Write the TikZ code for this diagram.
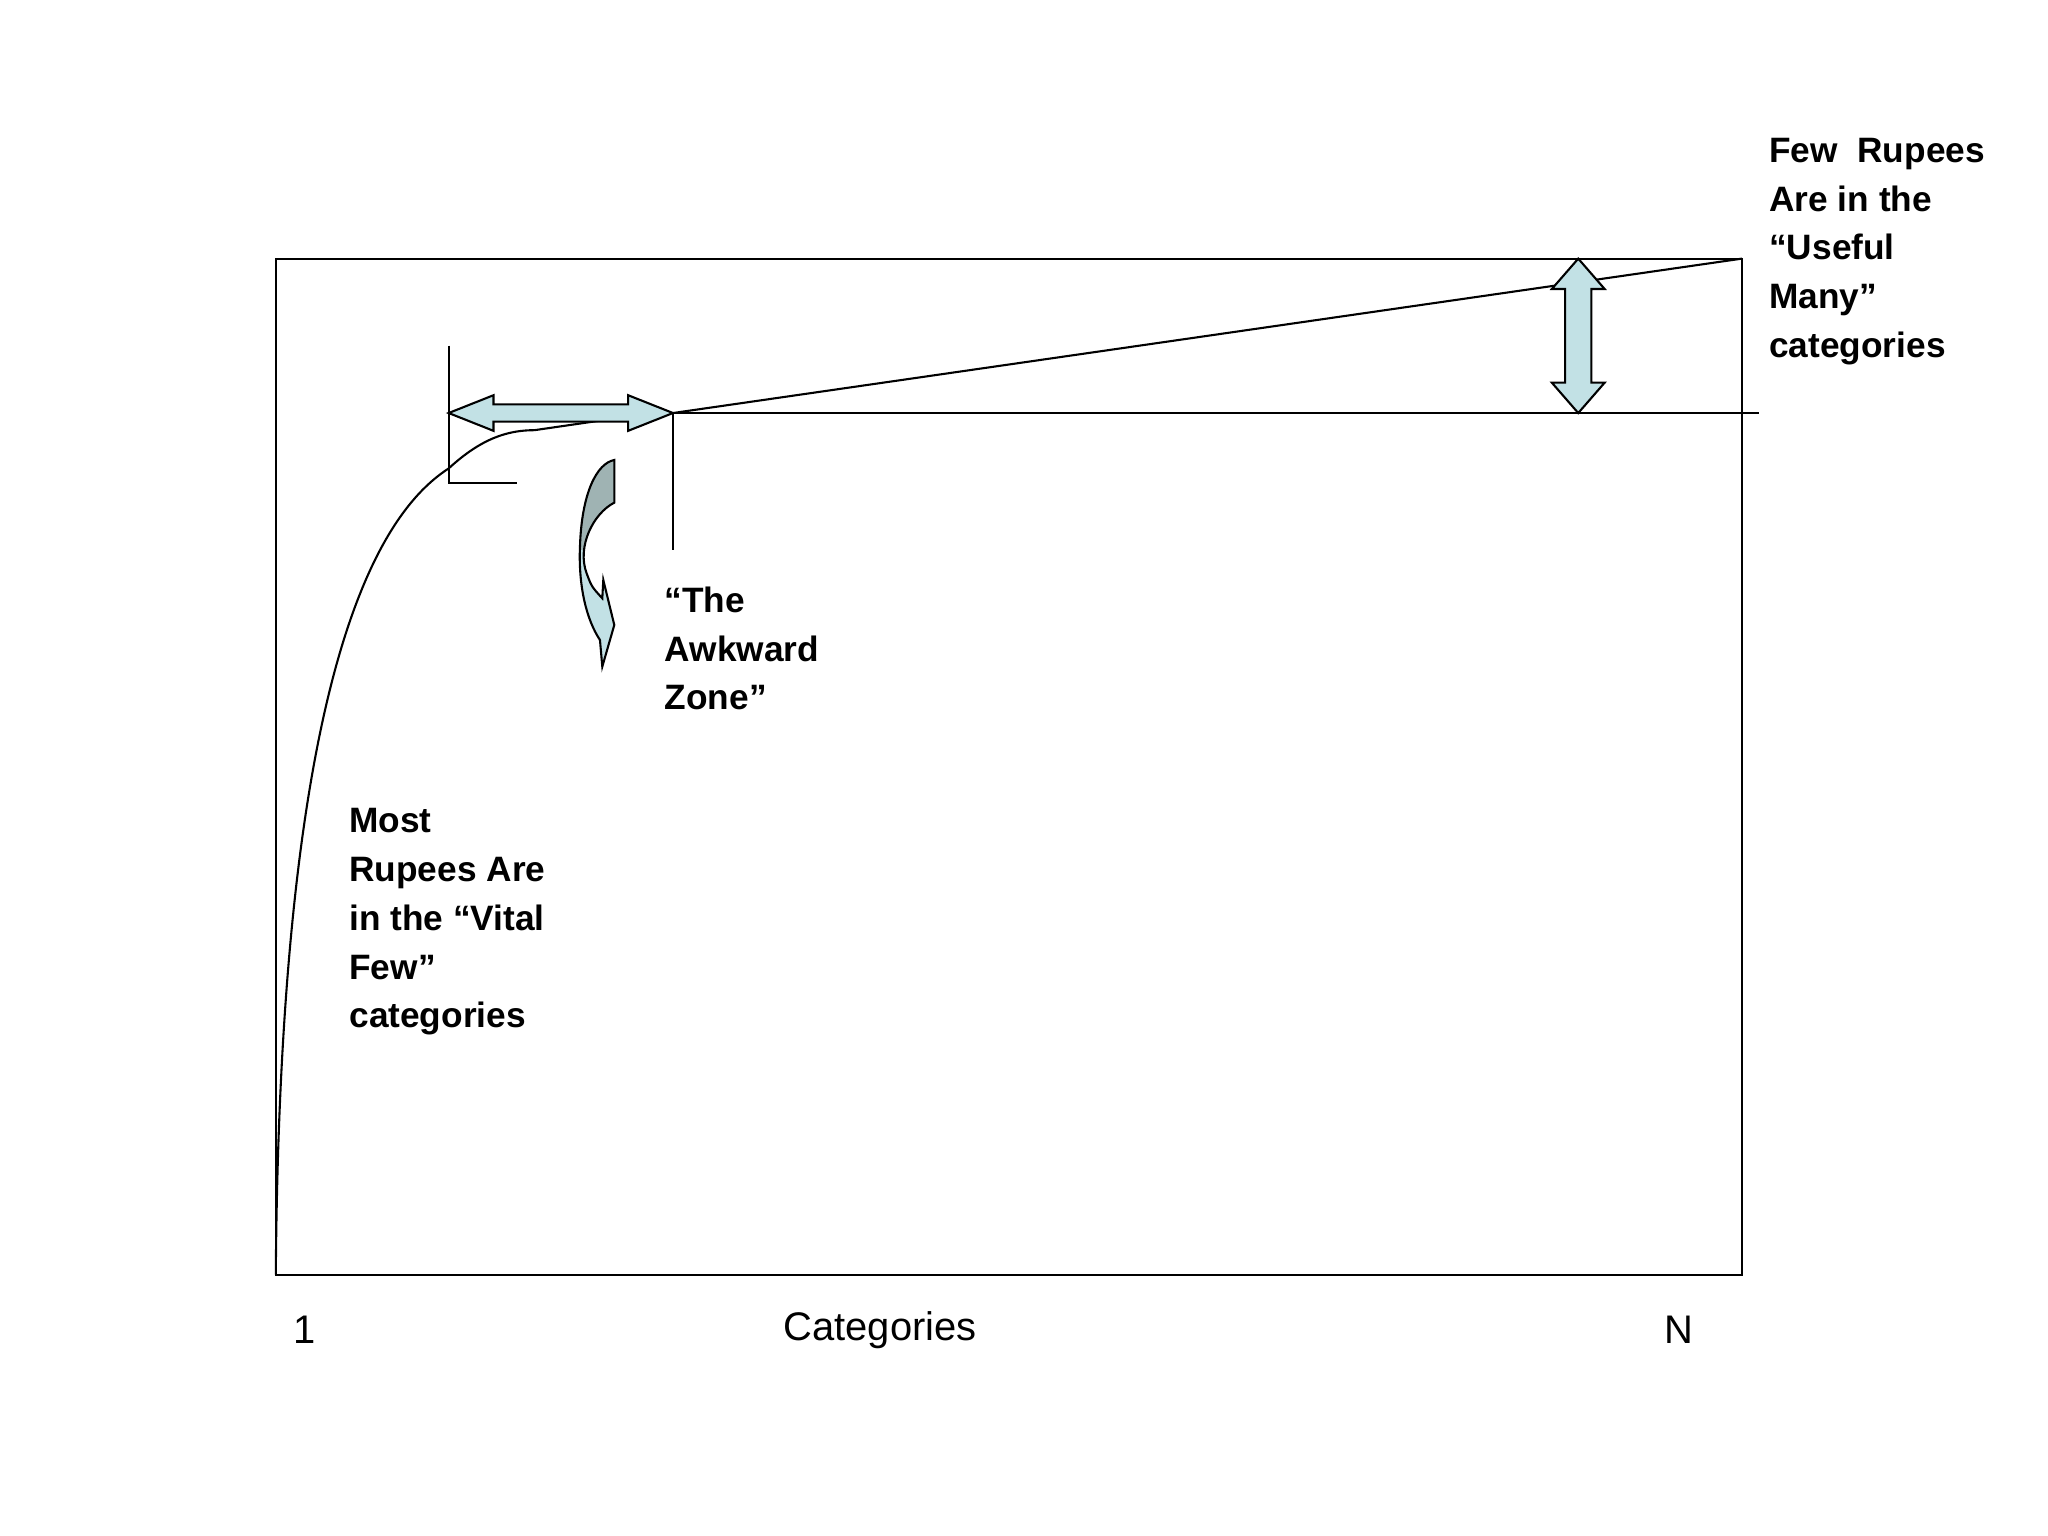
\documentclass[tikz,border=0pt]{standalone}
\usepackage{fontspec}
\setmainfont{Liberation Sans}
\begin{document}
\begin{tikzpicture}[x=0.01cm,y=-0.01cm,line width=0.45pt,
  lbl/.style={font=\bfseries\fontsize{7.6}{10.5}\selectfont,align=left,anchor=north west,inner sep=0pt},
  axl/.style={font=\fontsize{8.6}{10}\selectfont,inner sep=0pt},
  arr/.style={draw=black,fill=arrfill}]
\definecolor{arrfill}{HTML}{C2E1E5}
\definecolor{arrdark}{HTML}{9FB3B3}
\useasboundingbox (0,0) rectangle (1552,1164);
% frame
\draw (209,196) rectangle (1320,966);
% curve
\draw (209,966) .. controls (212,560) and (270,400) .. (340,355) .. controls (365,332) and (385,326) .. (405,326) -- (460,318);
% lines
\draw (510,313) -- (1320,196);
\draw (510,313) -- (1333,313);
\draw (340,262) -- (340,366) -- (392,366);
\draw (510,313) -- (510,417);
% horizontal double arrow
\draw[arr] (340,313) -- (374,299.5) -- (374,306.5) -- (476,306.5) -- (476,299.5) -- (510,313) -- (476,326.5) -- (476,319.5) -- (374,319.5) -- (374,326.5) -- cycle;
% vertical double arrow
\draw[arr] (1196,196) -- (1216,219) -- (1206,219) -- (1206,290) -- (1216,290) -- (1196,313) -- (1176,290) -- (1186,290) -- (1186,219) -- (1176,219) -- cycle;
% curved arrow
\begin{scope}[shift={(303.1,242.5)},scale=0.2526]
\path[fill=arrfill] (643,420) -- (643,548) .. controls (580,580) and (530,680) .. (560,760) .. controls (575,800) .. (607,835) -- (610,780) -- (643,915) -- (607,1040) -- (600,960) .. controls (560,900) and (535,800) .. (540,680) .. controls (545,520) and (590,430) .. (643,420);
\begin{scope}
\clip (500,400) rectangle (700,690);
\path[fill=arrdark] (643,420) -- (643,548) .. controls (580,580) and (530,680) .. (560,760) -- (540,760) -- (540,680) .. controls (545,520) and (590,430) .. (643,420);
\end{scope}
\draw (643,420) -- (643,548) .. controls (580,580) and (530,680) .. (560,760) .. controls (575,800) .. (607,835) -- (610,780) -- (643,915) -- (607,1040) -- (600,960) .. controls (560,900) and (535,800) .. (540,680) .. controls (545,520) and (590,430) .. (643,420) -- cycle;
\end{scope}
% texts
\node[lbl] (t1) at (1340,104) {Few\ \ Rupees\\Are in the\\“Useful\\Many”\\categories};
\node[lbl] (t2) at (503,444) {“The\\Awkward\\Zone”};
\node[lbl] (t3) at (264,612) {Most\\Rupees Are\\in the “Vital\\Few”\\categories};
\node[axl] (a1) at (231,1008) {1};
\node[axl] (a2) at (667,1008) {Categories};
\node[axl] (a3) at (1272,1008) {N};
\end{tikzpicture}
\end{document}
